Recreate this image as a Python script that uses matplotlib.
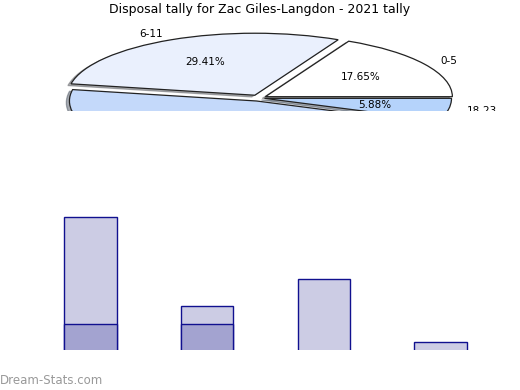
import numpy as np
import matplotlib
matplotlib.use('Agg')
import matplotlib.pyplot as plt

# pie data: disposal ranges, share of games
pie_labels = ['0-5', '6-11', '12-17', '18-23']
pie_games = [3, 5, 8, 1]
pie_colors = ['#ffffff', '#eaf0fd', '#c4d9fa', '#b5d3fb']

# bar data (stacked)
bar_x = [0, 1, 2, 3]
bar_total = [15, 5, 8, 1]
bar_low = [3, 3, 0, 0]

fig = plt.figure(figsize=(5.2, 3.9), dpi=100)
W, H = 520, 390

def px_axes(x0, y0, x1, y1):
    return fig.add_axes([x0 / W, 1 - y1 / H, (x1 - x0) / W, (y1 - y0) / H])

fig.text(0.5, 1 - 10 / H, 'Disposal tally for Zac Giles-Langdon - 2021 tally',
         ha='center', va='center', fontsize=9)

# pie, squashed and clipped
ax = px_axes(0, 22, 520, 111)
wedges, texts, autotexts = ax.pie(
    pie_games, labels=pie_labels, colors=pie_colors, autopct='%.2f%%',
    explode=[0.04, 0.05, 0.05, 0.03], shadow={'ox': -0.012, 'oy': -0.02, 'shade': 0.6},
    startangle=0, counterclock=True, labeldistance=1.1, pctdistance=0.6,
    wedgeprops={'edgecolor': '#222222', 'linewidth': 0.9},
    textprops={'fontsize': 7.5})
ax.set_aspect('auto')
cx = 259.0
r = 187.0
ax.set_xlim(-cx / r, (520 - cx) / r)
ry = 62.0
ax.set_ylim(-(111 - 98) / ry, (98 - 22) / ry)
ax.axis('off')
for art in ax.patches + ax.texts:
    art.set_clip_on(True)
    art.set_clip_path(ax.patch)

# bars
bx = px_axes(32, 200, 499, 350)
bx.bar(bar_x, bar_total, width=0.45, color='#ccccE4', edgecolor='#10108f', linewidth=1)
bx.bar(bar_x, bar_low, width=0.45, color='#a3a3d0', edgecolor='#10108f', linewidth=1)
bx.set_xlim(-0.5, 3.5)
bx.set_ylim(0.08, 150 / 8.87)
bx.axis('off')

fig.text(0 / W, 1 - 380 / H, 'Dream-Stats.com', ha='left', va='center',
         fontsize=8.5, color='#999999')

fig.savefig('out.png', dpi=100)
